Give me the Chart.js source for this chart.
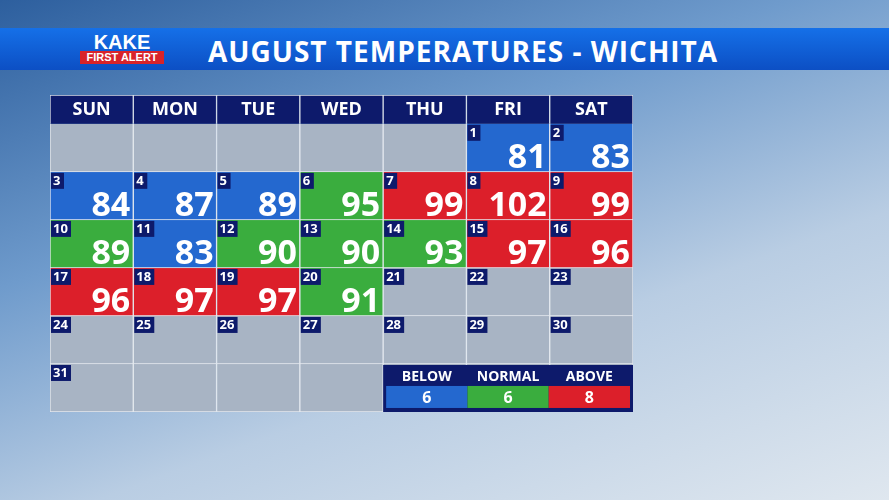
<!DOCTYPE html>
<html><head><meta charset="utf-8">
<script src="https://cdn.jsdelivr.net/npm/chart.js@4"></script>
<style>
body{margin:0;width:889px;height:500px;overflow:hidden;font-family:"Open Sans",sans-serif;
 background:linear-gradient(160deg,#2d5f9e 0%,#6f9bcc 35%,#b9cde3 65%,#dfe7ef 100%);position:relative}
#bar{position:absolute;left:0;top:28px;width:889px;height:42px;background:linear-gradient(#1570e8,#0c4fc4);}
#title{position:absolute;left:208px;top:32px;color:#fff;font:bold 28px "Open Sans",sans-serif;letter-spacing:1px}
#logo{position:absolute;left:80px;top:33px;width:84px;text-align:center;color:#fff;font:900 20px/18px "Liberation Sans",sans-serif}
#logo span{display:block;background:#d8232a;font:bold 11px/13px "Liberation Sans",sans-serif}
#wrap{position:absolute;left:50px;top:95px;width:583px;height:317px}
</style></head><body>
<div id="bar"></div><div id="logo">KAKE<span>FIRST ALERT</span></div>
<div id="title">AUGUST TEMPERATURES - WICHITA</div>
<div id="wrap"><canvas id="c"></canvas></div>
<script>
const weekdays = ['SUN','MON','TUE','WED','THU','FRI','SAT'];
const firstWeekday = 5; // Aug 1 is Friday
const daysInMonth = 31;
const temps = [81,83,84,87,89,95,99,102,99,89,83,90,90,93,97,96,96,97,97,91];
const classes = ['B','B','B','B','B','N','A','A','A','N','B','N','N','N','A','A','A','A','A','N'];
const legendNames = ['BELOW','NORMAL','ABOVE'];
const classColor = {B:'#2468cf',N:'#3aad3e',A:'#dc1f2a',E:'#a8b4c4'};

const datasets = [{
  data: weekdays.map(() => [-0.6, 0]),
  backgroundColor: '#0d1a6b', borderColor: '#d8dfe8', borderWidth: 1, grouped: false,
  barPercentage: 1, categoryPercentage: 1
}];
const cellInfo = [];
for (let r = 0; r < 6; r++) {
  const data = [], colors = [], info = [];
  for (let c = 0; c < 7; c++) {
    const day = r * 7 + c - firstWeekday + 1;
    data.push([r, r + 1]);
    const valid = day >= 1 && day <= daysInMonth;
    const cls = valid && day <= temps.length ? classes[day - 1] : 'E';
    colors.push(classColor[cls]);
    info.push(valid ? {day, temp: temps[day - 1]} : null);
  }
  datasets.push({data, backgroundColor: colors, borderColor: '#e4e9ef', borderWidth: 1,
    grouped: false, barPercentage: 1, categoryPercentage: 1});
  cellInfo.push(info);
}

const labelPlugin = {
  id: 'labels',
  afterDatasetsDraw(chart) {
    const ctx = chart.ctx, x = chart.scales.x, y = chart.scales.y;
    const w = x.getPixelForValue(1) - x.getPixelForValue(0);
    ctx.save();
    ctx.fillStyle = '#fff'; ctx.textAlign = 'center'; ctx.textBaseline = 'middle';
    ctx.font = 'bold 18px "Open Sans"';
    weekdays.forEach((d, i) => ctx.fillText(d, x.getPixelForValue(i), y.getPixelForValue(-0.3)));
    cellInfo.forEach((row, r) => row.forEach((cell, c) => {
      if (!cell) return;
      const left = x.getPixelForValue(c) - w / 2, top = y.getPixelForValue(r);
      const bottom = y.getPixelForValue(r + 1);
      ctx.fillStyle = '#0d1a6b';
      const bw = cell.day >= 10 ? 20 : 13;
      ctx.fillRect(left + 1, top + 1, bw, 16);
      ctx.fillStyle = '#fff'; ctx.textAlign = 'left'; ctx.textBaseline = 'middle';
      ctx.font = 'bold 13px "Open Sans"';
      ctx.fillText(cell.day, left + 3, top + 9);
      if (cell.temp) {
        ctx.textAlign = 'right'; ctx.textBaseline = 'alphabetic';
        ctx.font = 'bold 34px "Open Sans"';
        ctx.fillText(cell.temp, left + w - 3, bottom - 4);
      }
    }));
    // legend box
    const lx = x.getPixelForValue(4) - w / 2, rx = x.getPixelForValue(6) + w / 2;
    const ty = y.getPixelForValue(5), by = y.getPixelForValue(6);
    ctx.fillStyle = '#0d1a6b'; ctx.fillRect(lx, ty + 1, rx - lx, by - ty);
    const counts = ['B','N','A'].map(k => classes.filter(v => v === k).length);
    const sw = (rx - lx - 6) / 3;
    ['B','N','A'].forEach((k, i) => {
      const sx = lx + 3 + i * sw, cx = sx + sw / 2;
      ctx.fillStyle = '#fff'; ctx.textAlign = 'center'; ctx.textBaseline = 'middle';
      ctx.font = 'bold 14px "Open Sans"';
      ctx.fillText(legendNames[i], cx, ty + 13);
      ctx.fillStyle = classColor[k]; ctx.fillRect(sx, ty + 22, sw, 22);
      ctx.fillStyle = '#fff'; ctx.font = 'bold 16px "Open Sans"';
      ctx.fillText(counts[i], cx, ty + 34);
    });
    ctx.restore();
  }
};

new Chart(document.getElementById('c'), {
  type: 'bar',
  data: {labels: weekdays, datasets},
  options: {
    responsive: true, maintainAspectRatio: false, animation: false,
    layout: {padding: 0},
    plugins: {legend: {display: false}, tooltip: {enabled: false}},
    scales: {
      x: {display: false},
      y: {display: false, min: -0.6, max: 6, reverse: true}
    }
  },
  plugins: [labelPlugin]
});
</script></body></html>
